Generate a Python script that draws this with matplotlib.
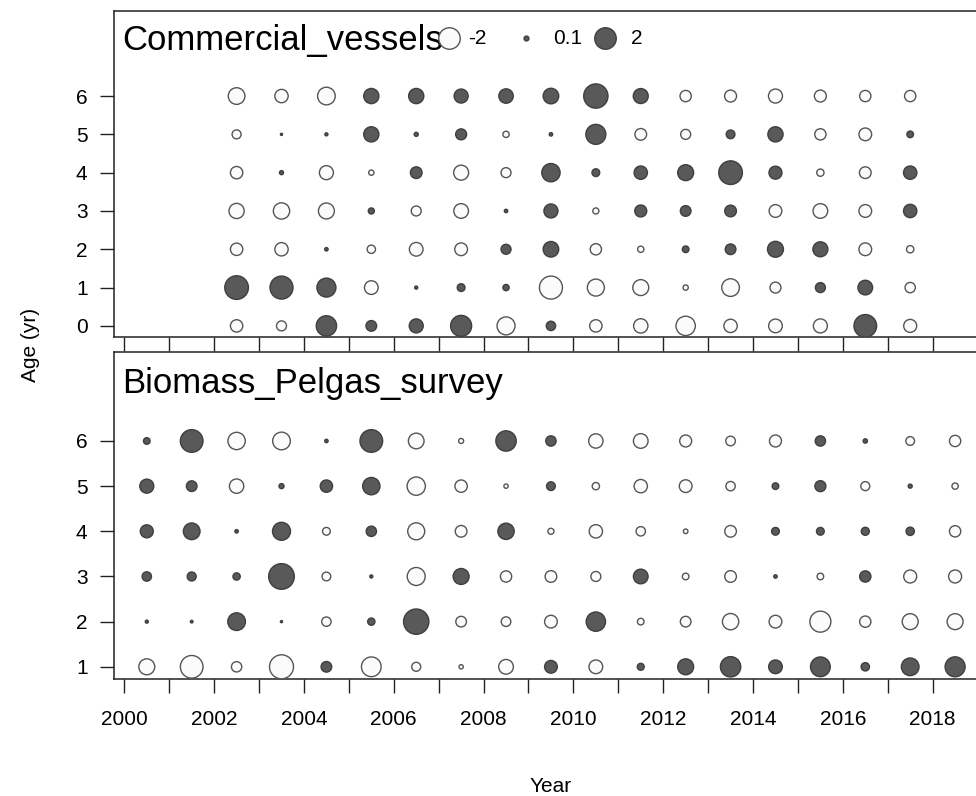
import numpy as np
import matplotlib
matplotlib.use("Agg")
import matplotlib.pyplot as plt

plt.rcParams['font.family'] = ['Liberation Sans', 'DejaVu Sans']

# ---- data: Commercial_vessels (ages 0-6, years 2002.5-2017.5) ----
comm_years = [2002.5, 2003.5, 2004.5, 2005.5, 2006.5, 2007.5, 2008.5, 2009.5,
              2010.5, 2011.5, 2012.5, 2013.5, 2014.5, 2015.5, 2016.5, 2017.5]
comm_ages = [0, 1, 2, 3, 4, 5, 6]
comm_age0 = [-0.66, -0.43, 1.79, 0.49, 0.85, 1.91, -1.40, 0.38, -0.66, -0.89, -1.62, -0.77, -0.81, -0.85, 2.22, -0.73]
comm_age1 = [2.42, 2.29, 1.56, -0.81, 0.04, 0.26, 0.17, -2.29, -1.25, -1.10, -0.12, -1.35, -0.52, 0.43, 0.93, -0.46]
comm_age2 = [-0.66, -0.77, 0.05, -0.30, -0.81, -0.70, 0.43, 1.05, -0.55, -0.17, 0.19, 0.49, 1.10, 0.97, -0.70, -0.23]
comm_age3 = [-1.00, -1.15, -1.10, 0.16, -0.43, -0.93, 0.05, 0.85, -0.16, 0.62, 0.49, 0.59, -0.70, -0.93, -0.70, 0.77]
comm_age4 = [-0.66, 0.07, -0.85, -0.12, 0.59, -0.97, -0.43, 1.45, 0.26, 0.77, 1.10, 2.42, 0.73, -0.23, -0.59, 0.77]
comm_age5 = [-0.35, 0.02, 0.04, 1.00, 0.07, 0.52, -0.17, 0.05, 1.73, -0.59, -0.43, 0.33, 1.00, -0.55, -0.70, 0.19]
comm_age6 = [-1.20, -0.77, -1.35, 1.00, 1.00, 0.85, 0.90, 1.05, 2.55, 0.97, -0.55, -0.62, -0.85, -0.62, -0.55, -0.55]
comm_rows = [comm_age0, comm_age1, comm_age2, comm_age3, comm_age4, comm_age5, comm_age6]

# ---- data: Biomass_Pelgas_survey (ages 1-6, years 2000.5-2018.5) ----
pel_years = [2000.5, 2001.5, 2002.5, 2003.5, 2004.5, 2005.5, 2006.5, 2007.5, 2008.5, 2009.5,
             2010.5, 2011.5, 2012.5, 2013.5, 2014.5, 2015.5, 2016.5, 2017.5, 2018.5]
pel_ages = [1, 2, 3, 4, 5, 6]
pel_age1 = [-1.10, -2.22, -0.46, -2.49, 0.49, -1.68, -0.35, -0.08, -0.93, 0.70, -0.81, 0.21, 1.10, 1.79, 0.81, 1.68, 0.30, 1.35, 1.73]
pel_age2 = [0.04, 0.03, 1.35, 0.02, -0.38, 0.23, 2.77, -0.49, -0.40, -0.70, 1.62, -0.19, -0.49, -1.15, -0.70, -1.91, -0.55, -1.10, -1.10]
pel_age3 = [0.38, 0.35, 0.23, 2.85, -0.33, 0.04, -1.40, 1.10, -0.55, -0.59, -0.43, 0.93, -0.19, -0.59, 0.05, -0.19, 0.55, -0.73, -0.73]
pel_age4 = [0.73, 1.20, 0.05, 1.40, -0.26, 0.46, -1.25, -0.59, 1.15, -0.16, -0.77, -0.38, -0.09, -0.59, 0.26, 0.26, 0.28, 0.30, -0.55]
pel_age5 = [0.85, 0.49, -0.89, 0.11, 0.66, 1.30, -1.45, -0.66, -0.08, 0.33, -0.23, -0.77, -0.70, -0.38, 0.19, 0.52, -0.35, 0.07, -0.17]
pel_age6 = [0.19, 2.22, -1.30, -1.35, 0.05, 2.22, -1.06, -0.11, 1.79, 0.46, -0.89, -0.93, -0.62, -0.40, -0.62, 0.46, 0.08, -0.33, -0.55]
pel_rows = [pel_age1, pel_age2, pel_age3, pel_age4, pel_age5, pel_age6]

legend_vals = [-2, 0.1, 2]
legend_labels = ["-2", "0.1", "2"]
xticks = [2000, 2002, 2004, 2006, 2008, 2010, 2012, 2014, 2016, 2018]

POS_FILL = "#595959"
POS_EDGE = "#3f3f3f"
NEG_FILL = "#fbfbfb"
NEG_EDGE = "#555555"
DPI = 100
K = 15.2  # px diameter per sqrt(|resid|)


def sizes(vals):
    d_px = K * np.sqrt(np.abs(np.asarray(vals, dtype=float)))
    d_pt = d_px * 72.0 / DPI
    return d_pt ** 2


def draw_bubbles(ax, years, ages, rows):
    xs, ys, vs = [], [], []
    for age, row in zip(ages, rows):
        for yr, v in zip(years, row):
            xs.append(yr); ys.append(age); vs.append(v)
    xs = np.array(xs); ys = np.array(ys); vs = np.array(vs)
    pos = vs > 0
    ax.scatter(xs[~pos], ys[~pos], s=sizes(vs[~pos]), facecolor=NEG_FILL,
               edgecolor=NEG_EDGE, linewidth=1.0, zorder=3)
    ax.scatter(xs[pos], ys[pos], s=sizes(vs[pos]), facecolor=POS_FILL,
               edgecolor=POS_EDGE, linewidth=1.0, zorder=3)


fig = plt.figure(figsize=(9.76, 7.96), dpi=DPI)
W, H = 976.0, 796.0
left = 114 / W
width = (978 - 114) / W
ax1 = fig.add_axes([left, 1 - 337 / H, width, 326 / H])
ax2 = fig.add_axes([left, 1 - 679 / H, width, (679 - 352) / H])

xlim = (1999.77, 2019.01)
for ax in (ax1, ax2):
    ax.set_xlim(*xlim)
    for sp in ax.spines.values():
        sp.set_linewidth(1.1)
        sp.set_color("#222222")
    ax.set_xticks(list(range(2000, 2020)))
    ax.tick_params(axis='both', direction='out', length=10, width=1.0,
                   labelsize=15, colors="#222222", labelcolor="black")
    ax.tick_params(axis='y', pad=9)
    ax.tick_params(axis='x', pad=12)

ax1.set_ylim(-0.29, 8.22)
ax1.set_yticks(comm_ages)
ax1.tick_params(axis='x', labelbottom=False)
draw_bubbles(ax1, comm_years, comm_ages, comm_rows)
ax1.text(0.0093, 0.911, "Commercial_vessels", transform=ax1.transAxes,
         fontsize=25, ha='left', va='center')

ax2.set_ylim(0.73, 7.97)
ax2.set_yticks(pel_ages)
ax2.set_xticklabels([str(y) if y in xticks else "" for y in range(2000, 2020)])
draw_bubbles(ax2, pel_years, pel_ages, pel_rows)
ax2.text(0.0093, 0.905, "Biomass_Pelgas_survey", transform=ax2.transAxes,
         fontsize=25, ha='left', va='center')

# legend (top panel)
mx = [(449 - 114) / 864, (526 - 114) / 864, (605 - 114) / 864]
tx = [(468 - 114) / 864, (553 - 114) / 864, (631 - 114) / 864]
ly = (337 - 38) / 326
for m, t, v, lab in zip(mx, tx, legend_vals, legend_labels):
    fc = POS_FILL if v > 0 else NEG_FILL
    ec = POS_EDGE if v > 0 else NEG_EDGE
    ax1.scatter([m], [ly], s=sizes([v]), facecolor=fc, edgecolor=ec,
                linewidth=1.0, transform=ax1.transAxes, clip_on=False, zorder=4)
    ax1.text(t, ly, lab, transform=ax1.transAxes, fontsize=15,
             ha='left', va='center')

fig.text(30 / W, 1 - 345 / H, "Age (yr)", rotation=90, fontsize=15,
         ha='center', va='center')
fig.text(551 / W, 1 - 786 / H, "Year", fontsize=15, ha='center', va='center')

fig.savefig("out.png", dpi=DPI)
